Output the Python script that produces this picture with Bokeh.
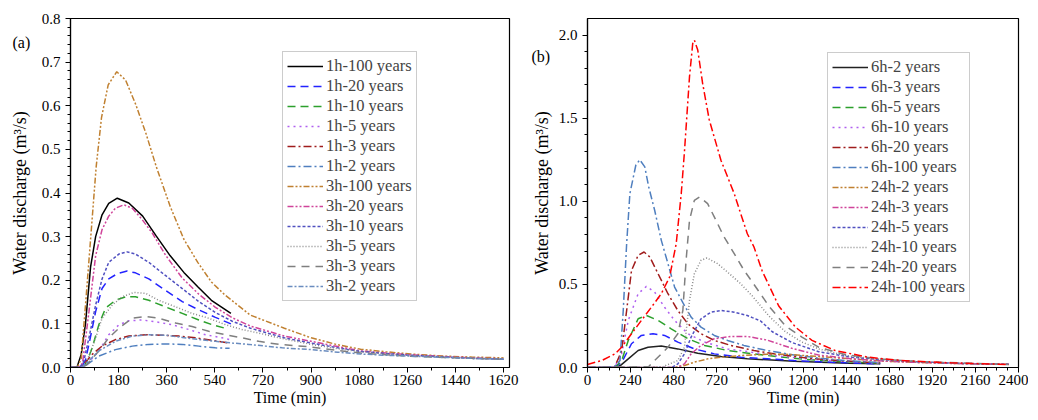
from bokeh.plotting import figure
from bokeh.layouts import row
from bokeh.models import Range1d, FixedTicker, NumeralTickFormatter, Label
from bokeh.embed import file_html
from bokeh.resources import INLINE

# ---- (a) 1h and 3h storms, time in min, discharge in m3/s ----
t_1h_100 = [0, 25, 40, 56, 75, 94, 118, 143, 175, 218, 270, 321, 373, 424, 476, 527, 600]
q_1h_100 = [0, 0.002, 0.03, 0.1, 0.23, 0.3, 0.35, 0.376, 0.388, 0.377, 0.347, 0.301, 0.256, 0.218, 0.185, 0.154, 0.124]

t_1h_20 = [0, 40, 55, 69, 94, 118, 143, 175, 212, 243, 293, 355, 418, 480, 542, 600]
q_1h_20 = [0, 0, 0.015, 0.053, 0.128, 0.181, 0.203, 0.215, 0.221, 0.217, 0.203, 0.177, 0.151, 0.132, 0.115, 0.1]

t_1h_10 = [0, 45, 60, 81, 106, 131, 168, 206, 243, 293, 355, 418, 480, 530, 590]
q_1h_10 = [0, 0, 0.012, 0.045, 0.098, 0.136, 0.154, 0.162, 0.162, 0.154, 0.139, 0.124, 0.109, 0.098, 0.088]

t_1h_5 = [0, 45, 60, 80, 106, 143, 181, 218, 268, 318, 380, 443, 505, 567, 595]
q_1h_5 = [0, 0, 0.006, 0.02, 0.038, 0.075, 0.098, 0.107, 0.109, 0.105, 0.098, 0.087, 0.075, 0.068, 0.064]

t_1h_3 = [0, 35, 50, 81, 118, 168, 218, 281, 343, 405, 468, 530, 595]
q_1h_3 = [0, 0, 0.008, 0.03, 0.049, 0.064, 0.072, 0.075, 0.074, 0.072, 0.068, 0.062, 0.056]

t_1h_2 = [0, 40, 60, 106, 168, 231, 293, 355, 418, 480, 542, 595]
q_1h_2 = [0, 0, 0.006, 0.026, 0.041, 0.049, 0.053, 0.054, 0.053, 0.049, 0.045, 0.044]

t_3h_100 = [0, 25, 40, 58, 77, 96, 116, 141, 173, 206, 244, 283, 321, 373, 424, 476, 527, 578,
            673, 800, 900, 1000, 1085, 1180, 1272, 1400, 1500, 1620]
q_3h_100 = [0, 0, 0.02, 0.158, 0.309, 0.46, 0.573, 0.648, 0.678, 0.659, 0.603, 0.535, 0.46, 0.369, 0.294, 0.241, 0.196, 0.166,
            0.12, 0.09, 0.068, 0.052, 0.042, 0.036, 0.031, 0.026, 0.024, 0.022]

t_3h_20 = [0, 30, 45, 69, 94, 118, 143, 168, 200, 231, 268, 305, 355, 418, 480, 542, 605, 673,
           800, 900, 1000, 1085, 1180, 1272, 1400, 1500, 1620]
q_3h_20 = [0, 0, 0.01, 0.128, 0.256, 0.316, 0.347, 0.365, 0.373, 0.365, 0.339, 0.309, 0.258, 0.205, 0.168, 0.138, 0.114, 0.095,
           0.072, 0.06, 0.048, 0.038, 0.033, 0.029, 0.025, 0.022, 0.02]

t_3h_10 = [0, 35, 50, 69, 94, 118, 143, 181, 212, 243, 293, 355, 418, 480, 542, 605, 673,
           800, 900, 1000, 1085, 1180, 1272, 1400, 1500, 1620]
q_3h_10 = [0, 0, 0.015, 0.068, 0.143, 0.203, 0.241, 0.26, 0.265, 0.26, 0.241, 0.211, 0.181, 0.151, 0.126, 0.106, 0.09,
           0.068, 0.056, 0.045, 0.037, 0.032, 0.028, 0.024, 0.021, 0.019]

t_3h_5 = [0, 45, 56, 75, 94, 118, 156, 193, 237, 281, 330, 393, 455, 517, 580, 642, 704, 779,
          900, 1000, 1085, 1180, 1272, 1400, 1500, 1620]
q_3h_5 = [0, 0, 0.008, 0.035, 0.068, 0.113, 0.143, 0.162, 0.172, 0.17, 0.154, 0.139, 0.124, 0.113, 0.098, 0.087, 0.079, 0.068,
          0.053, 0.043, 0.036, 0.031, 0.027, 0.024, 0.021, 0.019]

t_3h_3 = [0, 45, 60, 80, 106, 143, 181, 231, 281, 330, 393, 455, 517, 580, 642, 704, 779,
          900, 1000, 1085, 1180, 1272, 1400, 1500, 1620]
q_3h_3 = [0, 0, 0.006, 0.02, 0.038, 0.068, 0.09, 0.113, 0.117, 0.113, 0.102, 0.094, 0.083, 0.075, 0.068, 0.06, 0.053,
          0.047, 0.039, 0.033, 0.029, 0.026, 0.023, 0.021, 0.019]

t_3h_2 = [0, 40, 56, 106, 168, 231, 293, 355, 418, 480, 542, 605, 667, 729, 792,
          900, 1000, 1085, 1180, 1272, 1400, 1500, 1620]
q_3h_2 = [0, 0, 0.008, 0.038, 0.06, 0.072, 0.075, 0.074, 0.069, 0.064, 0.06, 0.056, 0.053, 0.049, 0.045,
          0.041, 0.035, 0.031, 0.028, 0.026, 0.023, 0.021, 0.019]

# ---- (b) 6h and 24h storms ----
t_6h_2 = [0, 150, 181, 227, 282, 337, 411, 503, 614, 743, 890, 1001, 1150, 1300, 1450, 1630]
q_6h_2 = [0, 0, 0.01, 0.052, 0.102, 0.122, 0.129, 0.112, 0.086, 0.066, 0.052, 0.046, 0.038, 0.032, 0.026, 0.022]

t_6h_3 = [0, 150, 190, 245, 300, 365, 429, 503, 595, 706, 853, 1001, 1150, 1300, 1450, 1630]
q_6h_3 = [0, 0, 0.03, 0.143, 0.193, 0.203, 0.193, 0.153, 0.112, 0.082, 0.062, 0.052, 0.042, 0.034, 0.028, 0.022]

t_6h_5 = [0, 150, 190, 227, 282, 328, 393, 466, 559, 651, 780, 927, 1050, 1200, 1350, 1500, 1630]
q_6h_5 = [0, 0, 0.04, 0.163, 0.293, 0.313, 0.283, 0.233, 0.173, 0.133, 0.102, 0.082, 0.066, 0.05, 0.04, 0.032, 0.025]

t_6h_10 = [0, 150, 190, 227, 282, 328, 374, 429, 485, 559, 651, 780, 927, 1050, 1200, 1350, 1500, 1630]
q_6h_10 = [0, 0, 0.082, 0.283, 0.444, 0.488, 0.454, 0.363, 0.283, 0.203, 0.153, 0.112, 0.09, 0.07, 0.055, 0.042, 0.033, 0.026]

t_6h_20 = [0, 150, 190, 218, 245, 282, 315, 347, 393, 448, 503, 559, 632, 706, 798, 927, 1050, 1200, 1350, 1500, 1630]
q_6h_20 = [0, 0, 0.1, 0.343, 0.584, 0.675, 0.695, 0.665, 0.564, 0.444, 0.343, 0.263, 0.203, 0.163, 0.133, 0.102, 0.08, 0.06, 0.045, 0.035, 0.028]

t_6h_100 = [0, 150, 181, 199, 218, 236, 269, 291, 319, 341, 374, 411, 448, 485, 531, 577, 632, 706, 780, 871,
            1001, 1150, 1300, 1450, 1630]
q_6h_100 = [0, 0.005, 0.042, 0.343, 0.745, 1.046, 1.217, 1.25, 1.207, 1.086, 0.946, 0.765, 0.625, 0.484, 0.39, 0.303, 0.243, 0.193, 0.163, 0.133,
            0.102, 0.075, 0.055, 0.04, 0.03]

t_24h_2 = [0, 480, 540, 595, 669, 743, 853, 1001, 1102, 1287, 1470, 1655, 1850, 2050, 2200, 2346]
q_24h_2 = [0, 0, 0.012, 0.032, 0.052, 0.062, 0.072, 0.08, 0.08, 0.066, 0.052, 0.038, 0.03, 0.024, 0.021, 0.019]

t_24h_3 = [0, 500, 540, 577, 632, 706, 798, 890, 1001, 1139, 1287, 1470, 1655, 1850, 2050, 2200, 2346]
q_24h_3 = [0, 0, 0.022, 0.082, 0.133, 0.173, 0.187, 0.187, 0.165, 0.115, 0.075, 0.052, 0.038, 0.03, 0.024, 0.021, 0.019]

t_24h_5 = [0, 470, 503, 540, 577, 632, 688, 743, 817, 890, 918, 964, 1029, 1139, 1287, 1470, 1655, 1850, 2050, 2200, 2346]
q_24h_5 = [0, 0, 0.022, 0.082, 0.183, 0.293, 0.333, 0.343, 0.333, 0.313, 0.3, 0.28, 0.215, 0.15, 0.095, 0.062, 0.046, 0.034, 0.026, 0.022, 0.019]

t_24h_10 = [0, 420, 503, 540, 568, 595, 632, 665, 724, 780, 853, 918, 1010, 1102, 1194, 1287, 1434, 1655, 1850, 2050, 2200, 2346]
q_24h_10 = [0, 0.005, 0.042, 0.122, 0.404, 0.564, 0.645, 0.659, 0.625, 0.574, 0.504, 0.43, 0.31, 0.215, 0.153, 0.112, 0.072, 0.046, 0.034, 0.026, 0.022, 0.019]

t_24h_20 = [0, 340, 374, 448, 503, 531, 549, 568, 595, 623, 669, 706, 761, 817, 872, 927, 1010, 1102, 1194, 1287, 1434, 1618, 1839, 2116, 2346]
q_24h_20 = [0, 0.005, 0.042, 0.122, 0.203, 0.343, 0.645, 0.886, 1.006, 1.026, 0.986, 0.906, 0.785, 0.685, 0.584, 0.5, 0.37, 0.25, 0.183, 0.122, 0.078, 0.052, 0.036, 0.026, 0.018]

t_24h_100 = [0, 79, 153, 190, 245, 300, 356, 411, 457, 494, 522, 540, 568, 586, 595, 614, 641, 678, 743, 780, 817,
             853, 890, 927, 973, 1065, 1158, 1250, 1379, 1563, 1747, 2024, 2346]
q_24h_100 = [0.018, 0.042, 0.082, 0.122, 0.203, 0.283, 0.363, 0.444, 0.544, 0.745, 1.046, 1.3, 1.75, 1.95, 1.97, 1.91, 1.71, 1.49, 1.247, 1.147, 1.046,
             0.926, 0.805, 0.725, 0.58, 0.37, 0.243, 0.163, 0.102, 0.062, 0.042, 0.028, 0.018]

FONT = "Liberation Serif"

# colour, dash for each series, in legend order
left_series = [
    ("1h-100 years", t_1h_100, q_1h_100, "#000000", "solid"),
    ("1h-20 years", t_1h_20, q_1h_20, "#2323ff", "8 5"),
    ("1h-10 years", t_1h_10, q_1h_10, "#2ca02c", "8 5"),
    ("1h-5 years", t_1h_5, q_1h_5, "#b060f0", "2 4"),
    ("1h-3 years", t_1h_3, q_1h_3, "#a01c1c", "8 3 2 3"),
    ("1h-2 years", t_1h_2, q_1h_2, "#4f7fbf", "8 3 2 3"),
    ("3h-100 years", t_3h_100, q_3h_100, "#c08030", "6 2 2 2 2 2"),
    ("3h-20 years", t_3h_20, q_3h_20, "#d0449a", "6 2 2 2 2 2"),
    ("3h-10 years", t_3h_10, q_3h_10, "#5050c0", "3 2"),
    ("3h-5 years", t_3h_5, q_3h_5, "#8a8a8a", "1 2"),
    ("3h-3 years", t_3h_3, q_3h_3, "#7f7f7f", "8 6"),
    ("3h-2 years", t_3h_2, q_3h_2, "#6a8cbf", "5 2 2 2"),
]

right_series = [
    ("6h-2 years", t_6h_2, q_6h_2, "#222222", "solid"),
    ("6h-3 years", t_6h_3, q_6h_3, "#2323ff", "8 5"),
    ("6h-5 years", t_6h_5, q_6h_5, "#2ca02c", "8 5"),
    ("6h-10 years", t_6h_10, q_6h_10, "#b060f0", "2 4"),
    ("6h-20 years", t_6h_20, q_6h_20, "#a01c1c", "8 3 2 3"),
    ("6h-100 years", t_6h_100, q_6h_100, "#4f7fbf", "8 3 2 3"),
    ("24h-2 years", t_24h_2, q_24h_2, "#c08030", "6 2 2 2 2 2"),
    ("24h-3 years", t_24h_3, q_24h_3, "#d0449a", "6 2 2 2 2 2"),
    ("24h-5 years", t_24h_5, q_24h_5, "#5050c0", "3 2"),
    ("24h-10 years", t_24h_10, q_24h_10, "#8a8a8a", "1 2"),
    ("24h-20 years", t_24h_20, q_24h_20, "#7f7f7f", "8 6"),
    ("24h-100 years", t_24h_100, q_24h_100, "#ff0000", "8 3 2 3"),
]


def style(p, xticks, xminor, yticks, yminor, ylabel_standoff):
    p.xgrid.visible = False
    p.ygrid.visible = False
    p.outline_line_color = "black"
    p.outline_line_width = 1.2
    p.background_fill_color = "white"
    p.border_fill_color = "white"
    p.xaxis.ticker = FixedTicker(ticks=xticks, minor_ticks=xminor)
    p.yaxis.ticker = FixedTicker(ticks=yticks, minor_ticks=yminor)
    p.yaxis.formatter = NumeralTickFormatter(format="0.0")
    p.xaxis.axis_label = "Time (min)"
    p.yaxis.axis_label = "Water discharge (m³/s)"
    for ax in (p.xaxis[0], p.yaxis[0]):
        ax.major_label_text_font = FONT
        ax.major_label_text_font_size = "15px"
        ax.major_label_text_color = "black"
        ax.axis_label_text_font = FONT
        ax.axis_label_text_font_size = "16px"
        ax.axis_label_text_font_style = "normal"
        ax.axis_label_text_color = "black"
        ax.axis_line_color = "black"
        ax.axis_line_width = 1.2
        ax.major_tick_line_color = "black"
        ax.minor_tick_line_color = "black"
        ax.major_tick_in = 0
        ax.major_tick_out = 5
        ax.minor_tick_in = 0
        ax.minor_tick_out = 3
    p.yaxis.axis_label_text_font_size = "18px"
    p.xaxis.major_label_standoff = 2
    p.xaxis.axis_label_standoff = 1
    p.yaxis.major_label_standoff = 5
    p.yaxis.axis_label_standoff = ylabel_standoff


def style_legend(p, loc):
    leg = p.legend[0]
    leg.location = loc
    leg.label_text_font = FONT
    leg.label_text_font_size = "16.5px"
    leg.glyph_width = 36
    leg.glyph_height = 20
    leg.label_height = 20
    leg.label_standoff = 3
    leg.spacing = 0
    leg.padding = 4
    leg.margin = 0
    leg.border_line_color = "#9a9a9a"
    leg.border_line_width = 1
    leg.background_fill_alpha = 1.0


def panel_tag(p, text, side, x, y):
    # panel letter sits left of the y axis, outside the frame, so it goes in a side panel
    p.add_layout(Label(x=x, y=y, x_units="screen", y_units="screen", text=text,
                       text_font=FONT, text_font_size="16px", text_color="black",
                       text_baseline="middle", text_align="left"), side)


# left panel
p1 = figure(width=528, height=419, x_range=Range1d(0, 1642), y_range=Range1d(0, 0.8),
            output_backend="svg", toolbar_location=None,
            min_border_left=70, min_border_right=19, min_border_top=16, min_border_bottom=49)
for name, t, q, col, dash in left_series:
    p1.line(t, q, line_color=col, line_dash=dash, line_width=1.5, legend_label=name)

style(p1, list(range(0, 1621, 180)), list(range(90, 1621, 180)),
      [i / 10 for i in range(9)], [i / 50 for i in range(41)], 9)
style_legend(p1, (212, 66))
panel_tag(p1, "(a)", "right", -497, 325)

# right panel
p2 = figure(width=500, height=419, x_range=Range1d(0, 2400), y_range=Range1d(0, 2.1),
            output_backend="svg", toolbar_location=None,
            min_border_left=56, min_border_right=10, min_border_top=18, min_border_bottom=52)
for name, t, q, col, dash in right_series:
    p2.line(t, q, line_color=col, line_dash=dash, line_width=1.5, legend_label=name)

style(p2, list(range(0, 2401, 240)), list(range(60, 2401, 60)),
      [i / 2 for i in range(5)], [i / 10 for i in range(21)], 4)
style_legend(p2, (240, 65))
panel_tag(p2, "(b)", "above", -56, -38)

layout = row(p1, p2)
open("out.html", "w").write(file_html(layout, INLINE))
